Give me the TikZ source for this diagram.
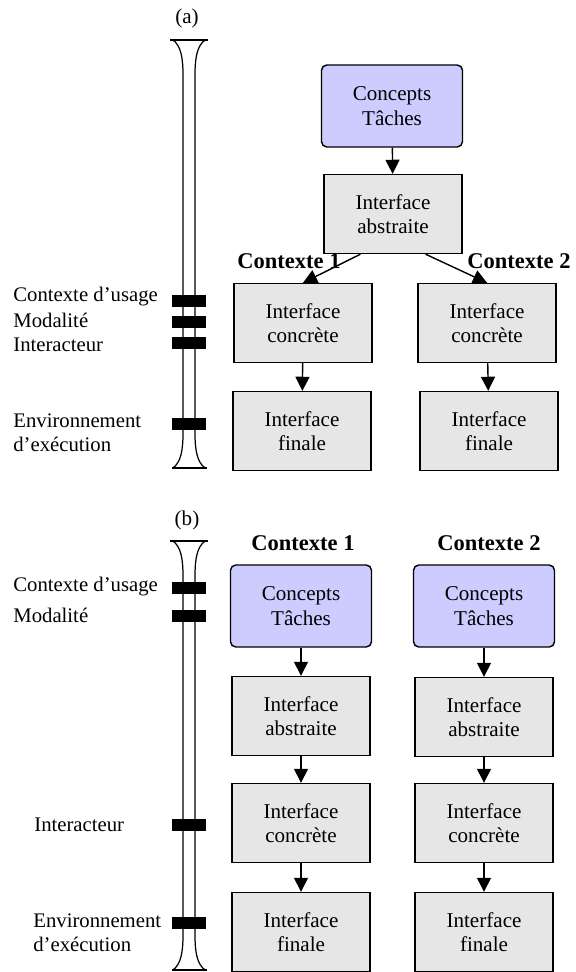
\documentclass[tikz,border=0pt]{standalone}
\usepackage{fontspec}
\setmainfont{Liberation Serif}
\usetikzlibrary{arrows.meta}
\definecolor{lavender}{RGB}{204,204,255}
\definecolor{boxgray}{RGB}{230,230,230}
\tikzset{
  iface/.style={draw, line width=0.8pt, fill=boxgray, minimum width=2.76cm, minimum height=1.58cm, align=center, font=\fontsize{12}{14}\selectfont},
  tasks/.style={iface, fill=lavender, rounded corners=3pt, minimum width=2.82cm, minimum height=1.64cm},
  ctx/.style={font=\fontsize{12.8}{14}\selectfont\bfseries},
  lbl/.style={anchor=west, align=left, inner sep=0pt, font=\fontsize{11.8}{13.8}\selectfont},
  link/.style={-{Triangle[width=8pt,length=8pt]}, line width=0.8pt}
}
\begin{document}
\begin{tikzpicture}[x=0.02cm, y=-0.02cm]
\useasboundingbox (0,0) rectangle (575,972);
% tubes
\foreach \t/\b in {40/468, 541/970}{
  \draw[line width=0.8pt] (170,\t) -- (208,\t);
  \draw[line width=0.8pt] (172,\b) -- (207,\b);
  \draw[line width=0.7pt] (173,\t) .. controls (181,{\t+6}) and (183,{\t+18}) .. (183,{\t+35}) -- (183,{\b-35}) .. controls (183,{\b-18}) and (181,{\b-6}) .. (173,\b);
  \draw[line width=0.7pt] (205,\t) .. controls (197,{\t+6}) and (195,{\t+18}) .. (195,{\t+35}) -- (195,{\b-35}) .. controls (195,{\b-18}) and (197,{\b-6}) .. (205,\b);
}
\foreach \y in {301,322,343,424,588,616,825,923}
  \fill (172,{\y-6}) rectangle (206,{\y+6});
%
\node[font=\fontsize{12}{14}\selectfont] (pa) at (187,18){(a)};
\node[lbl] (usa) at (13,297){Contexte d’usage};
\node[lbl] (moda) at (13,320){Modalité};
\node[lbl] (inta) at (13,345){Interacteur};
\node[lbl] (enva) at (13,433){Environnement\\d’exécution};
%
\node[tasks] (ta) at (392,106){Concepts\\Tâches};
\node[iface] (aa) at (393,214){Interface\\abstraite};
\node[iface] (cla) at (303,323){Interface\\concrète};
\node[iface] (cra) at (487,323){Interface\\concrète};
\node[iface] (fla) at (302,431){Interface\\finale};
\node[iface] (fra) at (489,431){Interface\\finale};
\node[ctx] (c1a) at (289,261){Contexte 1};
\node[ctx] (c2a) at (519,261){Contexte 2};
%
\draw[link](ta) -- (aa);
\draw[link](aa.231) -- (cla.north);
\draw[link](aa.309) -- (cra.north);
\draw[link](cla) -- (fla);
\draw[link](cra) -- (fra);

% (b)
\node[font=\fontsize{12}{14}\selectfont] (pb) at (187,520){(b)};
\node[lbl] (usb) at (13,587){Contexte d’usage};
\node[lbl] (modb) at (13,615){Modalité};
\node[lbl] (intb) at (34,825){Interacteur};
\node[lbl] (envb) at (33,933){Environnement\\d’exécution};
%
\node[ctx] (c1b) at (303,543){Contexte 1};
\node[ctx] (c2b) at (489,543){Contexte 2};
\node[tasks] (tb1) at (301,606){Concepts\\Tâches};
\node[tasks] (tb2) at (484,606){Concepts\\Tâches};
\node[iface] (ab1) at (301,716){Interface\\abstraite};
\node[iface] (ab2) at (484,717){Interface\\abstraite};
\node[iface] (cb1) at (301,823){Interface\\concrète};
\node[iface] (cb2) at (484,823){Interface\\concrète};
\node[iface] (fb1) at (301,932){Interface\\finale};
\node[iface] (fb2) at (484,932){Interface\\finale};
%
\draw[link](tb1) -- (ab1);
\draw[link](tb2) -- (ab2);
\draw[link](ab1) -- (cb1);
\draw[link](ab2) -- (cb2);
\draw[link](cb1) -- (fb1);
\draw[link](cb2) -- (fb2);

\end{tikzpicture}
\end{document}
